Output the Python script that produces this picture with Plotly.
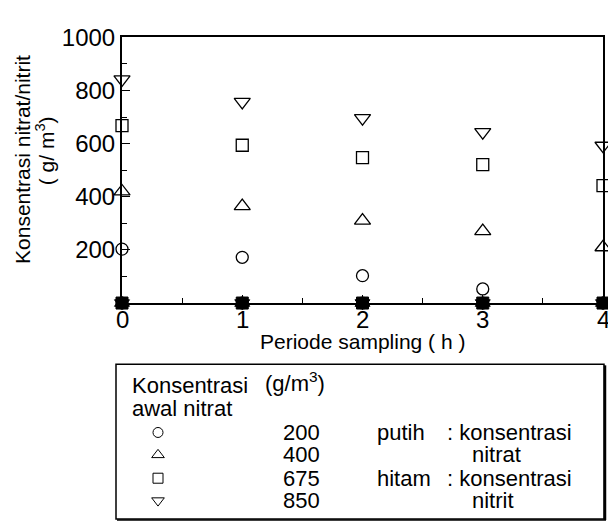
import plotly.graph_objects as go

# ---- data ----
periode = [0, 1, 2, 3, 4]
x_tick_vals = [0, 1, 2, 3, 4]
x_tick_text = ["0", "1", "2", "3", "4"]
y_tick_vals = [0, 200, 400, 600, 800, 1000]
y_tick_text = ["", "200", "400", "600", "800", "1000"]

nitrat_200 = [203, 172, 103, 53, None]
nitrat_400 = [420, 365, 310, 271, 210]
nitrat_675 = [668, 594, 547, 521, 442]
nitrat_850 = [842, 757, 696, 643, 592]

nitrit_200 = [0, 0, 0, 0, 0]
nitrit_400 = [0, 0, 0, 0, 0]
nitrit_675 = [0, 0, 0, 0, 0]
nitrit_850 = [0, 0, 0, 0, 0]

legend_kons = ["200", "400", "675", "850"]

FONT = "Liberation Sans, Arial, sans-serif"
FW, FH = 608, 522
# plot area geometry (pixels)
L, R, T, B = 122, 603, 24, 297

fig = go.Figure()

open_series = [
    (nitrat_200, "circle", 12),
    (nitrat_400, "triangle-up", 14),
    (nitrat_675, "square", 12),
    (nitrat_850, "triangle-down", 14),
]
for ys, sym, sz in open_series:
    fig.add_trace(go.Scatter(
        x=periode, y=ys, mode="markers", cliponaxis=False, showlegend=False,
        marker=dict(symbol=sym, size=sz, color="white",
                    line=dict(color="black", width=1.3)),
    ))

filled_series = [
    (nitrit_200, "circle", 12),
    (nitrit_400, "triangle-up", 13),
    (nitrit_675, "square", 12),
    (nitrit_850, "triangle-down", 13),
]
for ys, sym, sz in filled_series:
    fig.add_trace(go.Scatter(
        x=periode, y=ys, mode="markers", cliponaxis=False, showlegend=False,
        marker=dict(symbol=sym, size=sz, color="black",
                    line=dict(color="black", width=1)),
    ))

# legend key symbols on a pixel-space overlay axis
rows_y = [430, 453, 477, 500]
key_syms = ["circle", "triangle-up", "square", "triangle-down"]
key_sizes = [10, 11, 10, 11]
for i, yv in enumerate(rows_y):
    fig.add_trace(go.Scatter(
        x=[158], y=[yv], xaxis="x2", yaxis="y2", mode="markers",
        showlegend=False, cliponaxis=False,
        marker=dict(symbol=key_syms[i], size=key_sizes[i], color="white",
                    line=dict(color="black", width=1)),
    ))

anns = []
tf = dict(size=21, family=FONT, color="black")
# x tick labels (placed close under the axis like the reference)
for v, t in zip(x_tick_vals, x_tick_text):
    anns.append(dict(x=v, y=314, xref="x", yref="y2", text=t,
                     showarrow=False, font=dict(size=24, family=FONT,
                                                color="black")))
# y-axis title (two lines)
anns.append(dict(x=23, y=150, xref="x2", yref="y2",
                 text="Konsentrasi nitrat/nitrit", textangle=-90,
                 showarrow=False, font=tf))
anns.append(dict(x=45, y=141, xref="x2", yref="y2",
                 text="( g/ m<sup>3</sup>)", textangle=-90,
                 showarrow=False, font=tf))
# x-axis title
anns.append(dict(x=362, y=337, xref="x2", yref="y2",
                 text="Periode sampling ( h )", showarrow=False, font=tf))

lf = dict(size=22, family=FONT, color="black")
def txt(xp, yp, t):
    anns.append(dict(x=xp, y=yp, xref="x2", yref="y2", text=t,
                     xanchor="left", yanchor="middle", showarrow=False,
                     font=lf))

txt(130, 382, "Konsentrasi")
txt(263, 378, "(g/m<sup>3</sup>)")
txt(130, 405, "awal nitrat")
for i, yv in enumerate(rows_y):
    txt(281, yv, legend_kons[i])
txt(375, rows_y[0], "putih")
txt(445, rows_y[0], ": konsentrasi")
txt(470, rows_y[1], "nitrat")
txt(375, rows_y[2], "hitam")
txt(445, rows_y[2], ": konsentrasi")
txt(470, rows_y[3], "nitrit")

shapes = [
    dict(type="rect", xref="x2", yref="y2", x0=116, x1=604, y0=360, y1=519,
         line=dict(color="black", width=1.5)),
    dict(type="line", xref="x2", yref="y2", x0=605, x1=605, y0=361, y1=520,
         line=dict(color="black", width=2.5)),
    dict(type="line", xref="x2", yref="y2", x0=117, x1=606, y0=520, y1=520,
         line=dict(color="black", width=1.5)),
]

fig.update_layout(
    width=FW, height=FH,
    margin=dict(l=0, r=0, t=0, b=0),
    plot_bgcolor="rgba(0,0,0,0)", paper_bgcolor="white",
    font=dict(family=FONT, size=22, color="black"),
    annotations=anns, shapes=shapes,
    xaxis=dict(domain=[L / FW, R / FW], anchor="y",
               range=[0, 4], tickvals=x_tick_vals, showticklabels=False,
               ticks="inside", ticklen=8, tickwidth=1.3, tickcolor="black",
               showline=True, linecolor="black", linewidth=2, mirror=True,
               showgrid=False, zeroline=False,
               minor=dict(tickvals=[0.5, 1.5, 2.5, 3.5], ticks="inside",
                          ticklen=5, tickwidth=1.3, tickcolor="black")),
    yaxis=dict(domain=[1 - B / FH, 1 - T / FH], anchor="x",
               range=[0, 1000], tickvals=y_tick_vals, ticktext=y_tick_text,
               ticks="inside", ticklen=8, tickwidth=1.3, tickcolor="black",
               showline=True, linecolor="black", linewidth=2, mirror=True,
               showgrid=False, zeroline=False, ticklabeloverflow="allow",
               tickfont=dict(size=24, family=FONT),
               minor=dict(tickvals=[100, 300, 500, 700, 900], ticks="inside",
                          ticklen=5, tickwidth=1.3, tickcolor="black")),
    xaxis2=dict(domain=[0, 1], anchor="y2", range=[0, FW], visible=False,
                fixedrange=True),
    yaxis2=dict(domain=[0, 1], anchor="x2", range=[FH, 0], visible=False,
                fixedrange=True),
)

fig.write_html("out.html", config={"displayModeBar": False},
               post_script="document.body.style.margin='0';")
